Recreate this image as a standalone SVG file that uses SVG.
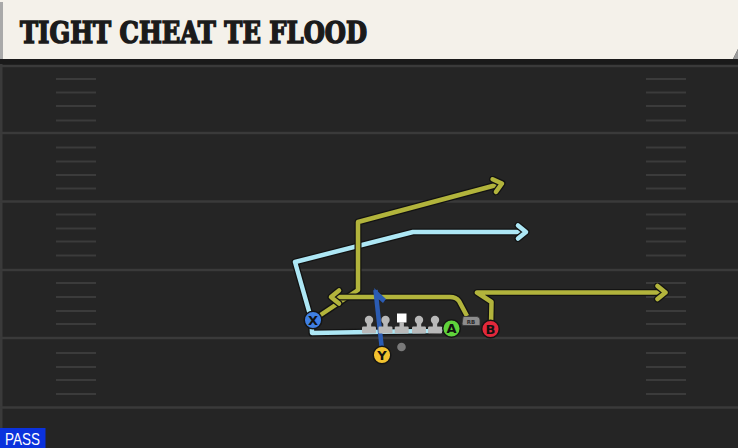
<svg xmlns="http://www.w3.org/2000/svg" width="738" height="448" viewBox="0 0 738 448">
<defs>
<style>
.o{fill:none;stroke:#131313;stroke-width:7;stroke-linejoin:round;stroke-linecap:butt}
.y{fill:none;stroke:#b2b43c;stroke-width:4.5;stroke-linejoin:round}
.c{fill:none;stroke:#ade7f5;stroke-width:4.5;stroke-linejoin:round}
.b{fill:none;stroke:#2b5cb3;stroke-width:4.5;stroke-linejoin:round}
.yd{stroke:#3a3a3a;stroke-width:2.5}
.hs{stroke:#3b3b3b;stroke-width:2}
.ol{fill:#b9b9b9}
.pl{stroke:#151515;stroke-width:1.5}
.lab{font-family:"DejaVu Sans",sans-serif;font-weight:bold;font-size:13px;text-anchor:middle;fill:#111}
</style>
<marker id="ay" markerUnits="userSpaceOnUse" viewBox="-14 -10 18 20" markerWidth="18" markerHeight="20" refX="0" refY="0" orient="auto">
<path d="M-8,-6.5 L0,0 L-8,6.5" fill="none" stroke="#131313" stroke-width="7" stroke-linecap="round" stroke-linejoin="round"/>
<path d="M-8,-6.5 L0,0 L-8,6.5" fill="none" stroke="#b2b43c" stroke-width="4.5" stroke-linecap="round" stroke-linejoin="round"/>
</marker>
<marker id="ac" markerUnits="userSpaceOnUse" viewBox="-14 -10 18 20" markerWidth="18" markerHeight="20" refX="0" refY="0" orient="auto">
<path d="M-8,-6.5 L0,0 L-8,6.5" fill="none" stroke="#131313" stroke-width="7" stroke-linecap="round" stroke-linejoin="round"/>
<path d="M-8,-6.5 L0,0 L-8,6.5" fill="none" stroke="#ade7f5" stroke-width="4.5" stroke-linecap="round" stroke-linejoin="round"/>
</marker>
</defs>

<g id="field">
<rect x="0" y="0" width="738" height="448" fill="#252525"/>
<rect x="0" y="59" width="738" height="6" fill="#1a1a1a"/>
<rect x="0" y="64" width="2.5" height="384" fill="#3a3a3a"/>
<line class="yd" x1="0" y1="66" x2="738" y2="66"/>
<line class="yd" x1="0" y1="133" x2="738" y2="133"/>
<line class="yd" x1="0" y1="201.5" x2="738" y2="201.5"/>
<line class="yd" x1="0" y1="270" x2="738" y2="270"/>
<line class="yd" x1="0" y1="338" x2="738" y2="338"/>
<line class="yd" x1="0" y1="407.5" x2="738" y2="407.5"/>
<path class="hs" d="M56,79H96M56,92.5H96M56,106H96M56,120.5H96M56,147.5H96M56,161.5H96M56,175H96M56,188.5H96M56,214.5H96M56,228.5H96M56,241.5H96M56,255.5H96M56,283H96M56,297H96M56,311H96M56,324H96M56,353H96M56,367H96M56,380H96M56,394H96"/>
<path class="hs" d="M646,79H686M646,92.5H686M646,106H686M646,120.5H686M646,147.5H686M646,161.5H686M646,175H686M646,188.5H686M646,214.5H686M646,228.5H686M646,241.5H686M646,255.5H686M646,283H686M646,297H686M646,311H686M646,324H686M646,353H686M646,367H686M646,380H686M646,394H686"/>
</g>

<g id="header">
<polygon points="0,0 738,0 738,49 733,59 0,59" fill="#f4f1ea"/>
<polygon points="733,59 738,49 738,59" fill="#9a9a9a"/>
<rect x="0" y="2" width="3" height="57" fill="#a9a9a9"/>
<text x="20" y="42.5" font-family="DejaVu Serif, serif" font-weight="bold" font-size="29" fill="#1b1b1b" stroke="#1b1b1b" stroke-width="1.6" stroke-linejoin="miter" textLength="347" lengthAdjust="spacingAndGlyphs">TIGHT CHEAT TE FLOOD</text>
</g>

<g id="connectors">
<path class="o" d="M443,329 L428,331 L312,333 L311.5,320 L295,262 L413,232 L524,232"/>
<path class="c" d="M443,329 L428,331 L312,333 L311.5,320 L295,262 L413,232 L526,232" marker-end="url(#ac)"/>
<path class="o" d="M313,320 L358,290 L358,222 L500,184"/>
<path class="y" d="M313,320 L358,290 L358,222 L502,183.5" marker-end="url(#ay)"/>
<path class="o" d="M467,316 L459,301 Q456,297 450,297 L334,297"/>
<path class="y" d="M467,316 L459,301 Q456,297 450,297 L331,297" marker-end="url(#ay)"/>
<path class="o" d="M491,326 L491.5,302 L477,292.5 L663,292.5"/>
<path class="y" d="M491,326 L491.5,302 L477,292.5 L665.5,292.5" marker-end="url(#ay)"/>
<path class="b" d="M382,350 L375.5,290"/>
<path d="M374,288 L386,299 L383,303 L376,297 Z" fill="#2b5cb3"/>
</g>

<g id="OL">
<g class="ol"><circle cx="369" cy="320" r="4.2"/><rect x="366.8" y="320" width="4.4" height="8"/><rect x="362" y="326.5" width="14" height="7" rx="1.2"/></g>
<g class="ol"><circle cx="385.5" cy="320" r="4.2"/><rect x="383.3" y="320" width="4.4" height="8"/><rect x="378.5" y="326.5" width="14" height="7" rx="1.2"/></g>
<g class="ol"><rect x="397" y="313.5" width="9.5" height="9" fill="#ffffff"/><rect x="399.5" y="322" width="4.4" height="6"/><rect x="394.7" y="326.5" width="14" height="7" rx="1.2"/></g>
<g class="ol"><circle cx="419" cy="320" r="4.2"/><rect x="416.8" y="320" width="4.4" height="8"/><rect x="412" y="326.5" width="14" height="7" rx="1.2"/></g>
<g class="ol"><circle cx="435" cy="320" r="4.2"/><rect x="432.8" y="320" width="4.4" height="8"/><rect x="428" y="326.5" width="14" height="7" rx="1.2"/></g>
</g>

<g id="QB"><circle cx="401.5" cy="347" r="4.3" fill="#7a7a7a"/></g>

<g id="RB">
<path d="M463,317.5 Q463,316.5 464,316.5 L477,316.5 Q480,317 480,320 L480,325.5 L464,325.5 Q462,325.5 462,324 Z" fill="#8c8c8c" stroke="#333" stroke-width="0.8"/>
<text x="471" y="323.5" font-family="DejaVu Sans, sans-serif" font-weight="bold" font-size="5.5" text-anchor="middle" fill="#2a2a2a">RB</text>
</g>

<g id="X"><circle class="pl" cx="313" cy="320" r="8.8" fill="#3f7fe3"/><text class="lab" x="313" y="324.7">X</text></g>
<g id="Y"><circle class="pl" cx="382" cy="355" r="8.8" fill="#f2c22f"/><text class="lab" x="382" y="359.7">Y</text></g>
<g id="A"><circle class="pl" cx="451.5" cy="328.5" r="8.8" fill="#5fd33b"/><text class="lab" x="451.5" y="333.2">A</text></g>
<g id="B"><circle class="pl" cx="490.5" cy="329" r="8.8" fill="#e3283b"/><text class="lab" x="490.5" y="333.7">B</text></g>

<g id="pass">
<rect x="0" y="428" width="45.5" height="20" fill="#0b32dd"/>
<text x="5" y="445" font-family="Liberation Sans, Arial, sans-serif" font-size="16.5" fill="#ffffff" textLength="35" lengthAdjust="spacingAndGlyphs">PASS</text>
</g>
</svg>
